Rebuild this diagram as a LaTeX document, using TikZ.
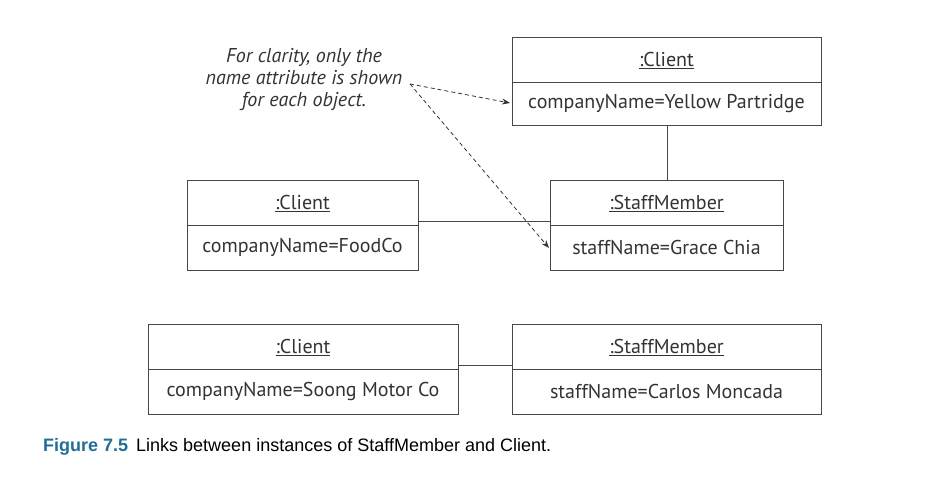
\documentclass[tikz,border=0pt]{standalone}
\usepackage{fontspec}
\setmainfont{PT Sans}
\newfontfamily\capfont{Liberation Sans}
\usetikzlibrary{arrows.meta,positioning}
\definecolor{ink}{HTML}{333333}
\definecolor{capblue}{HTML}{1F6E96}
\tikzset{
  x=1pt,y=-1pt,
  objbox/.style={draw=ink!90,line width=0.9pt,fill=none},
  hdr/.style={text=ink,font=\fontsize{20}{24}\selectfont,anchor=center},
  attr/.style={text=ink,font=\fontsize{20}{24}\selectfont,anchor=center},
  link/.style={draw=ink!90,line width=0.8pt},
  note/.style={draw=ink,line width=0.8pt,dash pattern=on 4pt off 3pt,-{Stealth[length=8pt,width=6pt]}},
}
\newcommand{\objb}[8]{% name, x1,y1,x2,y2,ydiv, header, attr
  \draw[objbox] (#2,#3) rectangle (#4,#5);
  \draw[objbox] (#2,#6) -- (#4,#6);
  \node[inner sep=0] (#1) at ({(#2+#4)/2},{(#3+#5)/2}) {};
  \node[hdr] (#1-h) at ({(#2+#4)/2},{(#3+#6)/2+1}) {\underline{#7}};
  \node[attr] (#1-a) at ({(#2+#4)/2},{(#6+#5)/2}) {#8};
}
\begin{document}
\begin{tikzpicture}
\useasboundingbox (0,0) rectangle (944,486);
\objb{yp}{512}{37}{821}{125}{82}{:Client}{companyName=Yellow Partridge}
\objb{gc}{550}{180}{783}{270}{225}{:StaffMember}{staffName=Grace Chia}
\objb{fc}{187}{180}{418}{270}{225}{:Client}{companyName=FoodCo}
\objb{sm}{148}{324}{458}{414}{369}{:Client}{companyName=Soong Motor Co}
\objb{cm}{512}{324}{821}{414}{369}{:StaffMember}{staffName=Carlos Moncada}
% links
\coordinate (ypb) at (667,125);
\coordinate (gct) at (667,180);
\draw[link] (ypb) -- (gct);
\coordinate (fcr) at (418,221);
\coordinate (gcl) at (550,221);
\draw[link] (fcr) -- (gcl);
\coordinate (smr) at (458,365);
\coordinate (cml) at (512,365);
\draw[link] (smr) -- (cml);
% note
\node[text=ink,font=\fontsize{20}{22}\selectfont\itshape,align=center,anchor=center] (nt) at (304,80)
  {For clarity, only the\\name attribute is shown\\for each object.};
\coordinate (ns) at (410,84);
\coordinate (ne1) at (510,103);
\coordinate (ne2) at (549,248);
\draw[note] (ns) -- (ne1);
\draw[note] (ns) -- (ne2);
% caption
\node[anchor=west,font=\capfont\fontsize{18}{20}\selectfont,inner sep=0] (cap) at (43,447)
  {\textcolor{capblue}{\bfseries Figure 7.5}\hspace{8pt}Links between instances of StaffMember and Client.};
\end{tikzpicture}
\end{document}
